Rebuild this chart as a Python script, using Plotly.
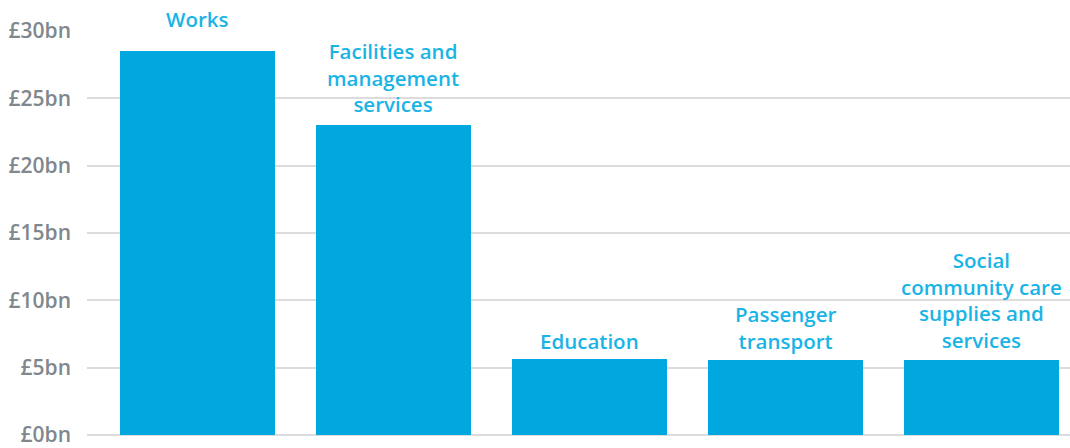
import plotly.graph_objects as go

categories = ["Works", "Facilities and<br>management<br>services", "Education",
              "Passenger<br>transport", "Social<br>community care<br>supplies and<br>services"]
values = [28.5, 23.0, 5.65, 5.6, 5.6]
label_shift = [17.5, 6, 3, 3.5, 4.5]
tick_vals = [0, 5, 10, 15, 20, 25, 30]
tick_text = ["£0bn", "£5bn", "£10bn", "£15bn", "£20bn", "£25bn", "£30bn"]

BAR = "#00a8df"
LABEL = "#19b4e6"
GRAY = "#80878d"

x = list(range(len(categories)))

fig = go.Figure(go.Bar(x=x, y=values, width=0.79, marker=dict(color=BAR, line=dict(width=0)),
                       hoverinfo="skip"))

for xi, (c, v, s) in enumerate(zip(categories, values, label_shift)):
    fig.add_annotation(x=xi, y=v, text=c, showarrow=False, yanchor="bottom",
                       yshift=s, borderpad=0,
                       font=dict(family="Open Sans", size=20.5, color=LABEL, weight=600),
                       align="center")

fig.update_layout(
    width=1070, height=448,
    margin=dict(l=87, r=0, t=31, b=11),
    paper_bgcolor="white", plot_bgcolor="white",
    showlegend=False,
    bargap=0,
    xaxis=dict(range=[-0.5638, 4.452], showticklabels=False, showgrid=False,
               zeroline=False, showline=False, ticks=""),
    yaxis=dict(range=[0, 30], tickvals=tick_vals, ticktext=tick_text,
               showgrid=True, gridcolor="#dcdcdc", gridwidth=2,
               zeroline=True, zerolinecolor="#dcdcdc", zerolinewidth=2,
               ticks="", ticklabelstandoff=15, ticklabeloverflow="allow",
               tickfont=dict(family="Open Sans", size=21, color=GRAY, weight=600)),
)
fig.write_html("out.html", config={"displayModeBar": False},
               post_script="document.body.style.margin='0';")
